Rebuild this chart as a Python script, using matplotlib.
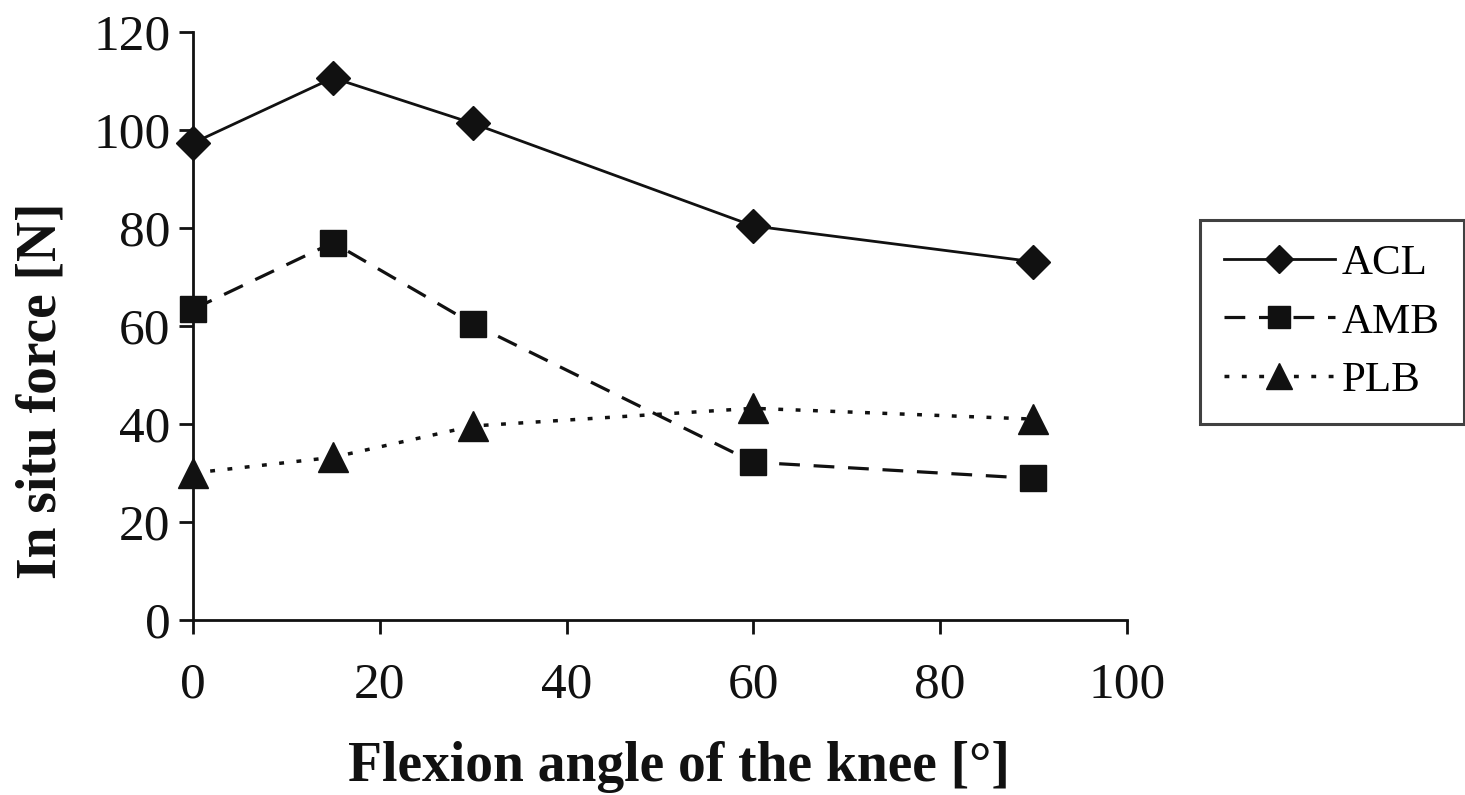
import matplotlib.pyplot as plt

# flexion angle [deg]
angles = [0, 15, 30, 60, 90]

# in situ force [N]
acl = [97.3, 110.6, 101.3, 80.4, 73.1]
amb = [63.4, 77.0, 60.4, 32.2, 28.9]
plb = [30.0, 33.2, 39.6, 43.2, 41.0]

x_ticks = [0, 20, 40, 60, 80, 100]
y_ticks = [0, 20, 40, 60, 80, 100, 120]

plt.rcParams["font.family"] = ["Liberation Serif", "DejaVu Serif"]
INK = "#111111"


def main():
    fig = plt.figure(figsize=(14.65, 7.95), dpi=100)
    ax = fig.add_axes([0.1317, 0.22, 0.6375, 0.74])

    ax.plot(angles, acl, color=INK, lw=2.0, ls="-",
            marker="D", ms=17, label="ACL", clip_on=False, zorder=3)
    ax.plot(angles, amb, color=INK, lw=2.3, ls=(0, (6.5, 4.3)),
            marker="s", ms=19, label="AMB", clip_on=False, zorder=3)
    ax.plot(angles, plb, color=INK, lw=2.5, ls=(0, (1.4, 3.6)),
            marker="^", ms=22, label="PLB", clip_on=False, zorder=3)

    ax.set_xlim(0, 100)
    ax.set_ylim(0, 120)
    ax.set_xticks(x_ticks)
    ax.set_yticks(y_ticks)
    ax.spines["top"].set_visible(False)
    ax.spines["right"].set_visible(False)
    for s in ("left", "bottom"):
        ax.spines[s].set_linewidth(2.0)
        ax.spines[s].set_color(INK)
    ax.tick_params(direction="out", length=10, width=2.0, colors=INK,
                   labelsize=37)
    ax.tick_params(axis="x", pad=20)
    ax.tick_params(axis="y", pad=6)

    ax.set_xlabel("Flexion angle of the knee [°]", fontsize=40,
                  fontweight="bold", color=INK)
    ax.set_ylabel("In situ force [N]", fontsize=40,
                  fontweight="bold", color=INK)
    ax.xaxis.set_label_coords(0.52, -0.205)
    ax.yaxis.set_label_coords(-0.1345, 0.39)

    leg = ax.legend(loc="center left", bbox_to_anchor=(0.819, 0.595),
                    bbox_transform=fig.transFigure, fontsize=31,
                    frameon=True, fancybox=False, handlelength=2.6,
                    handletextpad=0.15, borderpad=0.55, labelspacing=0.45,
                    borderaxespad=0, markerscale=0.85)
    leg.get_frame().set_edgecolor(INK)
    leg.get_frame().set_linewidth(2.2)

    fig.savefig("out.png", dpi=100)


if __name__ == "__main__":
    main()
